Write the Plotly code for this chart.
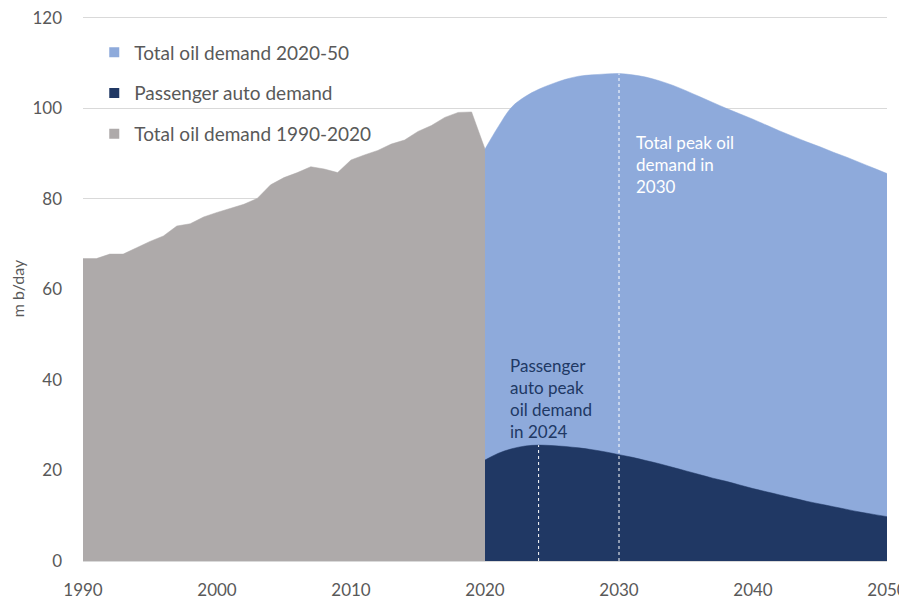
import plotly.graph_objects as go

hist_years = list(range(1990, 2021))
hist_total = [66.8, 66.8, 67.8, 67.8, 69.2, 70.6, 71.8, 74.0, 74.5, 76.0,
              77.0, 77.9, 78.8, 80.1, 83.1, 84.7, 85.8, 87.1, 86.6, 85.8,
              88.6, 89.7, 90.7, 92.1, 93.0, 94.9, 96.2, 98.0, 99.1, 99.2, 91.0]

proj_years = list(range(2020, 2051))
proj_total = [91.0, 96.0, 100.3, 102.6, 104.2, 105.4, 106.4, 107.1, 107.4, 107.6,
              107.7, 107.4, 106.9, 106.1, 105.1, 103.9, 102.6, 101.3, 100.0, 98.8,
              97.6, 96.3, 95.0, 93.8, 92.6, 91.5, 90.3, 89.2, 88.0, 86.8, 85.6]
proj_auto = [22.3, 23.8, 24.8, 25.4, 25.6, 25.5, 25.3, 25.0, 24.6, 24.1,
             23.5, 22.9, 22.2, 21.5, 20.7, 19.9, 19.1, 18.3, 17.6, 16.8,
             16.0, 15.3, 14.6, 13.9, 13.2, 12.6, 12.0, 11.4, 10.8, 10.3, 9.8]

x_ticks = [1990, 2000, 2010, 2020, 2030, 2040, 2050]
y_ticks = [0, 20, 40, 60, 80, 100, 120]

GRAY = "#aeaaaa"
LIGHT = "#8eaadb"
NAVY = "#203864"
TXT = "#595959"
FONT = "Lato, 'Open Sans', sans-serif"

fig = go.Figure()
fig.add_trace(go.Scatter(x=hist_years, y=hist_total, name="Total oil demand 1990-2020",
                         mode="lines", fill="tozeroy", fillcolor=GRAY,
                         line=dict(color=GRAY, width=0.5), showlegend=False))
fig.add_trace(go.Scatter(x=proj_years, y=proj_total, name="Total oil demand 2020-50",
                         mode="lines", fill="tozeroy", fillcolor=LIGHT,
                         line=dict(color=LIGHT, width=0.5, shape="spline"), showlegend=False))
fig.add_trace(go.Scatter(x=proj_years, y=proj_auto, name="Passenger auto demand",
                         mode="lines", fill="tozeroy", fillcolor=NAVY,
                         line=dict(color=NAVY, width=0.5, shape="spline"), showlegend=False))

# legend entries with square swatches
for name, col, rank, grp in [("Total oil demand 2020-50", LIGHT, 1, "a"),
                             ("Passenger auto demand", NAVY, 2, "b"),
                             ("Total oil demand 1990-2020", GRAY, 3, "c")]:
    fig.add_trace(go.Scatter(x=[None], y=[None], mode="markers", name=name,
                             marker=dict(symbol="square", size=10, color=col),
                             legendrank=rank, legendgroup=grp, showlegend=True))

# peak markers derived from data
i_tot = proj_total.index(max(proj_total))
i_auto = proj_auto.index(max(proj_auto))
peak_tot_year, peak_tot_val = proj_years[i_tot], proj_total[i_tot]
peak_auto_year, peak_auto_val = proj_years[i_auto], proj_auto[i_auto]

fig.add_shape(type="line", x0=peak_tot_year, x1=peak_tot_year, y0=0, y1=peak_tot_val,
              line=dict(color="white", width=1, dash="dot"), layer="above")
fig.add_shape(type="line", x0=peak_auto_year, x1=peak_auto_year, y0=0, y1=peak_auto_val,
              line=dict(color="white", width=1, dash="dot"), layer="above")

fig.add_annotation(x=2031.1, y=95.3, xanchor="left", yanchor="top",
                   text="Total peak oil<br>demand in<br>2030", showarrow=False, align="left",
                   font=dict(family=FONT, size=17, color="white"))
fig.add_annotation(x=2021.7, y=46.0, xanchor="left", yanchor="top",
                   text="Passenger<br>auto peak<br>oil demand<br>in 2024", showarrow=False,
                   align="left", font=dict(family=FONT, size=17, color=NAVY))

fig.update_layout(
    width=899, height=591,
    margin=dict(l=75, r=20, t=8, b=38),
    plot_bgcolor="white", paper_bgcolor="white",
    font=dict(family=FONT, size=16, color=TXT),
    legend=dict(x=0.014, y=0.968, xanchor="left", yanchor="top",
                bgcolor="rgba(0,0,0,0)", tracegroupgap=13,
                font=dict(family=FONT, size=19, color=TXT),
                itemwidth=30),
    showlegend=True,
    xaxis=dict(range=[1990, 2050], tickvals=x_ticks, showgrid=False, zeroline=False,
               showline=False, ticks="", ticklabelstandoff=17, automargin=False,
               ticklabeloverflow="allow",
               tickfont=dict(size=17, color=TXT)),
    yaxis=dict(range=[0, 120.4], tickvals=y_ticks, showgrid=True, gridcolor="#d9d9d9",
               gridwidth=1, zeroline=True, zerolinecolor="#d9d9d9", showline=False,
               ticks="", ticklabelstandoff=20, automargin=False,
               ticklabeloverflow="allow",
               title=dict(text="m b/day", standoff=6, font=dict(size=16, color=TXT)),
               tickfont=dict(size=17, color=TXT)),
)

fig.write_html("out.html")
